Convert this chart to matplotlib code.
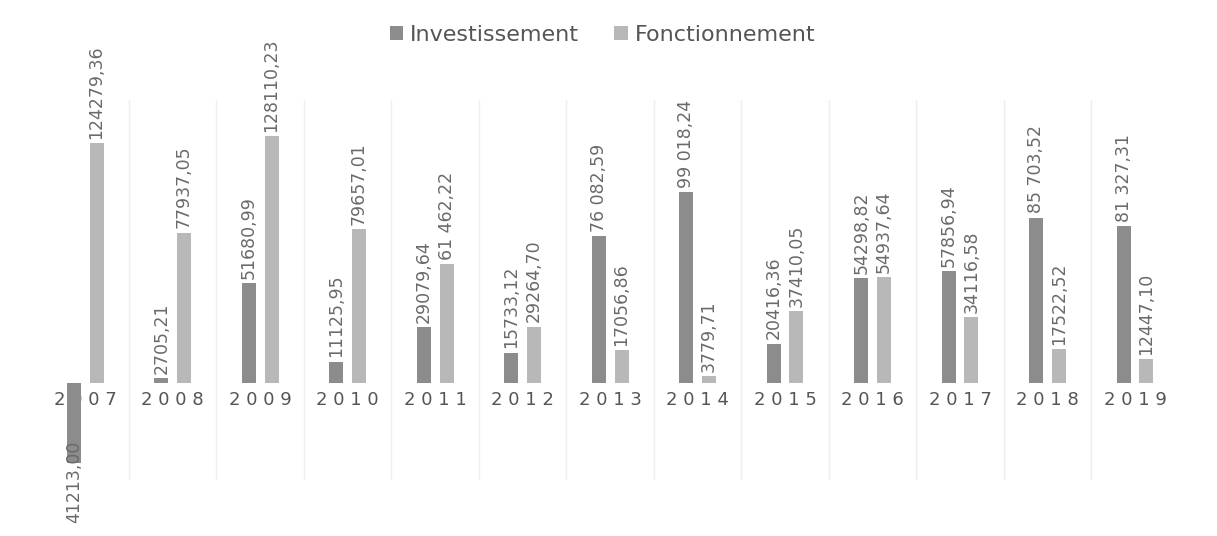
import matplotlib.pyplot as plt
import numpy as np

years = ["2007", "2008", "2009", "2010", "2011", "2012", "2013",
         "2014", "2015", "2016", "2017", "2018", "2019"]
investissement = [-41213.00, 2705.21, 51680.99, 11125.95, 29079.64, 15733.12, 76082.59,
                  99018.24, 20416.36, 54298.82, 57856.94, 85703.52, 81327.31]
fonctionnement = [124279.36, 77937.05, 128110.23, 79657.01, 61462.22, 29264.70, 17056.86,
                  3779.71, 37410.05, 54937.64, 34116.58, 17522.52, 12447.10]
# labels as printed in the source (some with thousands space)
inv_labels = ["41213,00", "2705,21", "51680,99", "11125,95", "29079,64", "15733,12", "76 082,59",
              "99 018,24", "20416,36", "54298,82", "57856,94", "85 703,52", "81 327,31"]
fon_labels = ["124279,36", "77937,05", "128110,23", "79657,01", "61 462,22", "29264,70", "17056,86",
              "3779,71", "37410,05", "54937,64", "34116,58", "17522,52", "12447,10"]

col_inv = "#8c8c8c"
col_fon = "#b8b8b8"
txt = "#6a6a6a"

fig = plt.figure(figsize=(12.17, 5.36), dpi=100)
ax = fig.add_axes([0.029, 0.104, 0.949, 0.709])

x = np.arange(len(years))
w = 0.16
off = 0.13
ax.bar(x - off, investissement, w, color=col_inv, label="Investissement", zorder=3)
ax.bar(x + off, fonctionnement, w, color=col_fon, label="Fonctionnement", zorder=3)

# data labels
for i in range(len(years)):
    v = investissement[i]
    if v >= 0:
        ax.annotate(inv_labels[i], (x[i] - off, v), xytext=(0, 3), textcoords="offset points",
                    rotation=90, ha="center", va="bottom", fontsize=12.5, color=txt,
                    annotation_clip=False, zorder=4)
    else:
        # label sits partly over the end of the negative bar
        ax.annotate(inv_labels[i], (x[i] - off, v), xytext=(0, 16), textcoords="offset points",
                    rotation=90, ha="center", va="top", fontsize=12.5, color=txt,
                    annotation_clip=False, zorder=4)
    ax.annotate(fon_labels[i], (x[i] + off, fonctionnement[i]), xytext=(0, 3),
                textcoords="offset points", rotation=90, ha="center", va="bottom",
                fontsize=12.5, color=txt, annotation_clip=False, zorder=4)

# year labels sitting on the zero line (under the bars)
for i, y in enumerate(years):
    ax.annotate(" ".join(y), (x[i], 0), xytext=(0, -6), textcoords="offset points",
                ha="center", va="top", fontsize=13, color="#555555", zorder=2)

ax.set_xlim(-0.57, len(years) - 0.37)
ax.set_ylim(-50400, 146500)
ax.set_xticks(x[:-1] + 0.5, minor=False)
ax.set_xticklabels([])
ax.tick_params(length=0)
ax.set_yticks([])
ax.grid(axis="x", color="#eeeeee", linewidth=1, zorder=0)
ax.set_axisbelow(True)
for s in ax.spines.values():
    s.set_visible(False)

fig.legend(loc="center", bbox_to_anchor=(0.495, 0.935), ncol=2, frameon=False,
           fontsize=16, labelcolor="#555555", handlelength=0.6, handleheight=0.6,
           columnspacing=1.6, handletextpad=0.3)

fig.savefig("out.png", dpi=100, facecolor="white")
